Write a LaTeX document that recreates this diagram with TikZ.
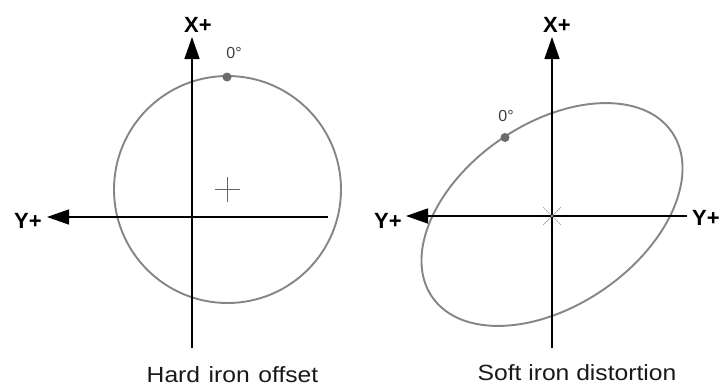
\documentclass[tikz,border=0pt]{standalone}
\usepackage{fontspec}
\setmainfont{Liberation Sans}
\usetikzlibrary{arrows.meta}
\begin{document}
\begin{tikzpicture}[x=1pt,y=-1pt,
  axis/.style={line width=1.4pt,black,-{Triangle[length=22pt,width=15pt]}},
  curve/.style={draw=black!48,line width=1.9pt},
  crossmark/.style={draw=black!60,line width=0.8pt},
  xmarkst/.style={draw=black!35,line width=0.7pt},
  dotst/.style={circle,fill=black!58,inner sep=0pt,minimum size=9pt},
  axlabel/.style={font=\fontsize{22}{22}\selectfont\bfseries,inner sep=0pt},
  deglabel/.style={font=\fontsize{16}{16}\selectfont,text=black!75,inner sep=0pt},
  caption/.style={font=\fontsize{22}{22}\selectfont,text=black!90,inner sep=0pt,xscale=1.12}]
\useasboundingbox (0,0) rectangle (723,388);
\fill[white] (0,0) rectangle (723,388);

% ---------- left: hard iron ----------
\coordinate (L0) at (192,217);
\coordinate (Lbot) at (192,348);
\coordinate (Ltop) at (192,37);
\coordinate (Lright) at (328,217);
\coordinate (Lleft) at (47,217);
\coordinate (Lc) at (227.5,189.5);

\draw[curve] (Lc) circle[radius=113.5];
\draw[axis] (Lbot) -- (Ltop);
\draw[axis] (Lright) -- (Lleft);
\draw[crossmark] ([xshift=-12.5pt]Lc) -- ([xshift=12.5pt]Lc);
\draw[crossmark] ([yshift=12.5pt]Lc) -- ([yshift=-12.5pt]Lc);

\node[dotst] (Ldot) at (227,77) {};
\node[deglabel] (Ldeg) at (234,53) {0°};
\node[axlabel] (LX) at (198,25) {X+};
\node[axlabel] (LY) at (28,221) {Y+};
\node[caption] (Lcap) at (232.5,375) {Hard\hspace{0.35em}iron\hspace{0.35em}offset};

% ---------- right: soft iron ----------
\coordinate (R0) at (552,216);
\coordinate (Rbot) at (552,348);
\coordinate (Rtop) at (552,37);
\coordinate (Rright) at (687,216);
\coordinate (Rleft) at (406,216);
\coordinate (Rc) at (552,214.5);

\draw[curve,rotate around={34.5:(Rc)}] (Rc) ellipse (145.5 and 91);
\draw[axis] (Rbot) -- (Rtop);
\draw[axis] (Rright) -- (Rleft);
\draw[xmarkst] ([shift={(-9,-9)}]R0) -- ([shift={(9,9)}]R0);
\draw[xmarkst] ([shift={(-9,9)}]R0) -- ([shift={(9,-9)}]R0);

\node[dotst] (Rdot) at (505,137.5) {};
\node[deglabel] (Rdeg) at (506,116) {0°};
\node[axlabel] (RX) at (557,25) {X+};
\node[axlabel] (RYl) at (388,221) {Y+};
\node[axlabel] (RYr) at (706,218) {Y+};
\node[caption] (Rcap) at (577,373) {Soft iron distortion};
\end{tikzpicture}
\end{document}
